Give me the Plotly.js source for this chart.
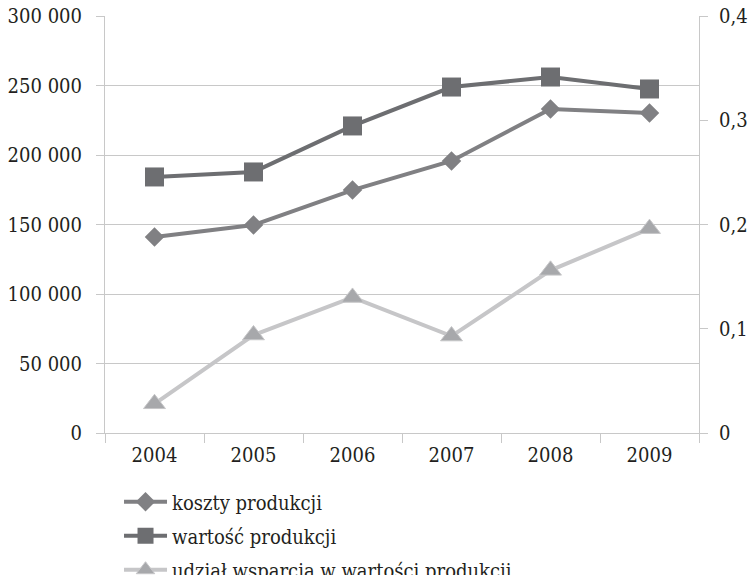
<!DOCTYPE html>
<html>
<head>
<meta charset="utf-8">
<script src="https://cdn.plot.ly/plotly-3.0.1.min.js"></script>
<style>html,body{margin:0;padding:0;background:#fff;}#chart{width:751px;height:575px;}</style>
</head>
<body>
<div id="chart"></div>
<script>
var years = ['2004', '2005', '2006', '2007', '2008', '2009'];
var kosztyProdukcji = [141000, 149600, 174800, 195700, 233100, 230200];
var wartoscProdukcji = [184200, 187800, 220900, 248900, 256100, 247500];
var udzialWsparcia = [0.028, 0.094, 0.130, 0.093, 0.156, 0.196];
var seriesNames = ['koszty produkcji', 'wartość produkcji', 'udział wsparcia w wartości produkcji'];

var fam = 'DejaVu Serif Condensed, DejaVu Serif, serif';
var font = {family: fam, size: 20, color: '#231f20'};
var gridC = '#c8c8c8';

var traces = [
  {x: years, y: kosztyProdukcji, name: seriesNames[0], legendgroup: 'a', type: 'scatter', mode: 'lines+markers',
   line: {color: '#808083', width: 4}, marker: {symbol: 'diamond', size: 15, color: '#808083'}},
  {x: years, y: wartoscProdukcji, name: seriesNames[1], legendgroup: 'b', type: 'scatter', mode: 'lines+markers',
   line: {color: '#6d6e71', width: 4}, marker: {symbol: 'square', size: 19, color: '#6d6e71'}},
  {x: years, y: udzialWsparcia, name: seriesNames[2], legendgroup: 'c', type: 'scatter', mode: 'lines+markers', yaxis: 'y2',
   line: {color: '#c6c6c8', width: 4}, marker: {symbol: 'triangle-up', size: 19, color: '#a7a8ab', line: {color: '#c6c6c8', width: 1}}}
];

var layout = {
  width: 751, height: 575,
  margin: {l: 105, r: 52, t: 16, b: 142, autoexpand: false},
  paper_bgcolor: '#fff', plot_bgcolor: '#fff',
  font: font,
  separators: ', ',
  showlegend: true,
  xaxis: {type: 'category', range: [-0.5, 5.5], showgrid: false, showline: true, linecolor: gridC, linewidth: 1,
          ticks: 'outside', tickson: 'boundaries', ticklen: 9, tickcolor: gridC, tickfont: font, ticklabelstandoff: 4, zeroline: false},
  yaxis: {range: [0, 300000], dtick: 50000, tickformat: ',d', showgrid: true, gridcolor: gridC, gridwidth: 1,
          showline: true, linecolor: gridC, ticks: 'outside', ticklen: 8, tickcolor: gridC, tickfont: font,
          ticklabelstandoff: 10, zeroline: false, fixedrange: true},
  yaxis2: {overlaying: 'y', side: 'right', range: [0, 0.4], dtick: 0.1, showgrid: false, showline: true, linecolor: gridC,
           ticks: 'outside', ticklen: 8, tickcolor: gridC, tickfont: font, ticklabelstandoff: 7, zeroline: false},
  legend: {orientation: 'v', x: 0.0236, xanchor: 'left', y: -0.118, yanchor: 'top', font: font,
           bgcolor: 'rgba(0,0,0,0)', itemwidth: 43, tracegroupgap: 5, traceorder: 'grouped'}
};

Plotly.newPlot('chart', traces, layout, {displayModeBar: false, staticPlot: true});
</script>
</body>
</html>
